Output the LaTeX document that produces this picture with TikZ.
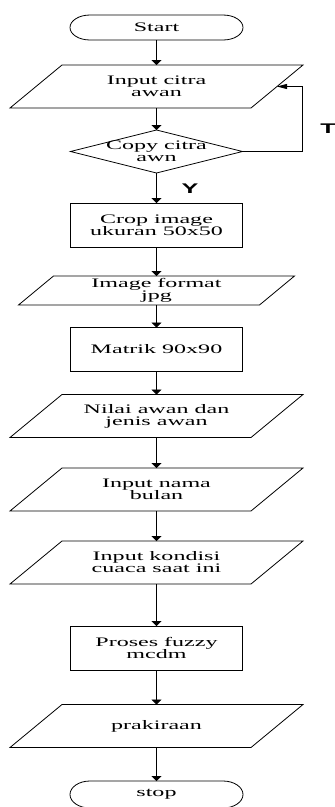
\documentclass[tikz,border=0pt]{standalone}
\usepackage{fontspec}
\setmainfont{Liberation Serif}[FakeStretch=1.85]
\newfontfamily\labelfont{Liberation Sans}[FakeStretch=1.8]
\usetikzlibrary{arrows.meta,calc}

\tikzset{
  base/.style={inner sep=0pt, outer sep=0pt, align=center,
    font=\fontsize{13}{12}\selectfont, text=black},
  term/.style={base, minimum width=173pt, minimum height=25pt},
  procbox/.style={base, draw, minimum width=172pt, minimum height=44pt},
  iobox/.style={base, minimum width=241pt, minimum height=43pt},
  decbox/.style={base, minimum width=172pt, minimum height=43pt},
  lbl/.style={inner sep=0pt, font=\labelfont\bfseries\fontsize{14}{14}\selectfont},
  flow/.style={-{Triangle[length=5pt,width=10pt]}},
  backflow/.style={-{Triangle[length=10pt,width=5pt]}},
}

% outline of a terminator: straight top and bottom, elliptic ends
\newcommand\termoutline[2]{%
  \draw ([xshift=20pt]#1.north west) -- ([xshift=-20pt]#1.north east)
    arc[start angle=90,end angle=-90,x radius=20pt,y radius=#2pt]
    -- ([xshift=20pt]#1.south west)
    arc[start angle=270,end angle=90,x radius=20pt,y radius=#2pt] -- cycle;}
% outline of an input/output parallelogram around a node body
\newcommand\paraoutline[2]{%
  \draw ([xshift=#2pt]#1.north west) -- ([xshift=#2pt]#1.north east)
    -- ([xshift=-#2pt]#1.south east) -- ([xshift=-#2pt]#1.south west) -- cycle;}

\begin{document}
\begin{tikzpicture}[x=1pt,y=1pt,line width=0.8pt]
\useasboundingbox (0,0) rectangle (335,-807);

\node[term]   (start)   at (156.5,-27.5) {Start};
\node[iobox]  (in1)     at (156.5,-86.5) {Input citra\\awan};
\node[decbox] (dec)     at (156.5,-151.5) {Copy citra\\awn};
\node[procbox](crop)    at (156.5,-225) {Crop image\\ukuran 50x50};
\node[iobox, minimum height=29pt] (fmt) at (156.5,-290.5) {Image format\\jpg};
\node[procbox](mat)     at (156.5,-349.5) {Matrik 90x90};
\node[iobox]  (nilai)   at (156.5,-416) {Nilai awan dan\\jenis awan};
\node[iobox]  (bulan)   at (156.5,-489.5) {Input nama\\bulan};
\node[iobox]  (kondisi) at (156.5,-562.5) {Input kondisi\\cuaca saat ini};
\node[procbox](proses)  at (156.5,-648) {Proses fuzzy\\mcdm};
\node[iobox]  (prak)    at (156.5,-726) {prakiraan};
\node[term, minimum height=27pt] (stop) at (156.5,-794.5) {stop};

\termoutline{start}{12.5}
\termoutline{stop}{13.5}
\paraoutline{in1}{26}
\paraoutline{fmt}{17.5}
\paraoutline{nilai}{26}
\paraoutline{bulan}{26}
\paraoutline{kondisi}{26}
\paraoutline{prak}{26}
\draw (dec.north) -- (dec.east) -- (dec.south) -- (dec.west) -- cycle;

\draw[flow] (start.south) -- (in1.north);
\draw[flow] (in1.south) -- (dec.north);
\draw[flow] (dec.south) -- (crop.north);
\draw[flow] (crop.south) -- (fmt.north);
\draw[flow] (fmt.south) -- (mat.north);
\draw[flow] (mat.south) -- (nilai.north);
\draw[flow] (nilai.south) -- (bulan.north);
\draw[flow] (bulan.south) -- (kondisi.north);
\draw[flow] (kondisi.south) -- (proses.north);
\draw[flow] (proses.south) -- (prak.north);
\draw[flow] (prak.south) -- (stop.north);
\draw[backflow] (dec.east) -- ++(60,0) |- (in1.east);

\node[lbl] (tlabel) at (328,-129) {T};
\node[lbl] (ylabel) at (190,-189) {Y};
\end{tikzpicture}
\end{document}
